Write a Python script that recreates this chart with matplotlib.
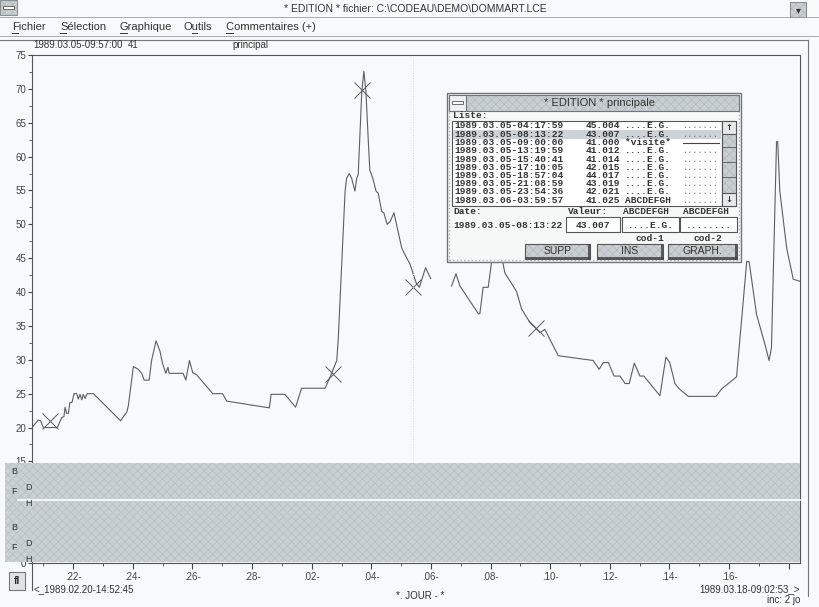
import datetime as dt
import matplotlib
matplotlib.use('Agg')
import matplotlib.pyplot as plt
import matplotlib.dates as mdates
import matplotlib.ticker as mticker
from matplotlib.patches import Rectangle
from matplotlib.lines import Line2D
import numpy as np

W, H = 819, 607

# bornes de l'axe des temps
debut = dt.datetime(1989, 2, 20, 14, 52, 45)
fin = dt.datetime(1989, 3, 18, 9, 2, 53)
curseur = dt.datetime(1989, 3, 5, 9, 57, 0)

# courbe principale : jours depuis le debut / valeurs
jours = [0.00, 0.21, 0.29, 0.38, 0.85, 1.00, 1.07, 1.11, 1.16, 1.22, 1.27, 1.34,
         1.41, 1.50, 1.55, 1.61, 1.67, 1.72, 1.78, 1.85, 2.06, 2.97, 3.18, 3.23,
         3.40, 3.56, 3.68, 3.76, 3.93, 4.01, 4.16, 4.29, 4.38, 4.49, 4.56, 4.60,
         5.07, 5.16, 5.28, 5.39, 5.52, 6.06, 6.39, 6.53, 7.96, 8.02, 8.48, 8.84,
         9.04, 9.83, 10.05, 10.22, 10.27, 10.50, 10.55, 10.64, 10.72, 10.83, 10.89,
         10.94, 11.06, 11.13, 11.20, 11.28, 11.33, 11.43, 11.54, 11.61, 11.73,
         11.80, 11.91, 12.01, 12.14, 12.25, 12.40, 12.51, 12.68, 12.88, 12.99,
         13.20, 13.37, 13.70, 14.07, 14.22, 14.35, 14.97, 15.02, 15.13, 15.30,
         15.42, 15.56, 15.78, 15.86, 16.25, 16.42, 16.70, 17.04, 17.20, 17.65,
         18.82, 19.02, 19.16, 19.33, 19.52, 19.72, 19.89, 20.03, 20.20, 20.39,
         20.52, 21.06, 21.26, 21.39, 21.56, 21.71, 22.01, 22.94, 23.13, 23.63,
         23.97, 24.05, 24.30, 24.58, 24.72, 24.80, 24.97, 25.01, 25.08, 25.31,
         25.53, 25.75]
valeurs = [20.0, 21.1, 21.0, 20.0, 20.0, 21.5, 21.6, 23.0, 22.1, 22.1, 23.7, 23.7,
           25.0, 25.0, 24.2, 24.9, 24.1, 24.9, 24.3, 25.0, 25.0, 21.0, 22.3, 23.2,
           29.0, 28.6, 28.0, 27.0, 27.0, 29.9, 32.8, 31.3, 29.4, 28.0, 28.9, 28.0,
           28.0, 27.0, 29.9, 28.1, 27.8, 25.0, 25.0, 23.9, 22.9, 24.9, 24.9, 23.0,
           25.8, 25.8, 28.0, 29.9, 33.0, 54.9, 56.8, 57.5, 56.8, 54.9, 56.8,
           57.3, 69.6, 72.6, 69.6, 62.2, 58.0, 56.8, 54.9, 54.6, 51.9,
           51.7, 50.0, 50.4, 51.7, 49.5, 46.5, 45.5, 44.1, 41.4, 40.7,
           43.6, 42.0, np.nan, 40.9, 42.7, 40.9, 36.8, 36.8, 40.7, 40.7,
           44.6, 49.7, 44.6, 42.8, 40.1, 37.5, 35.5, 34.0, 34.5, 30.6,
           29.9, 28.6, 29.6, 29.6, 27.6, 27.6, 26.5, 26.5, 29.5, 27.6,
           27.6, 24.7, 30.4, 29.6, 26.5, 25.7, 24.6, 24.6, 25.7, 27.5,
           44.5, 44.5, 36.7, 32.3, 29.9, 31.8, 62.2, 62.2, 54.9, 46.5,
           41.9, 41.6]

# points marques d'une croix
jours_marques = [0.60, 10.11, 11.07, 12.78, 16.90]
valeurs_marques = [21.0, 27.9, 69.8, 40.7, 34.7]

# contenu de la liste du dialogue
liste_dates = ['1989.03.05-04:17:59', '1989.03.05-08:13:22', '1989.03.05-09:00:00',
               '1989.03.05-13:19:59', '1989.03.05-15:40:41', '1989.03.05-17:10:05',
               '1989.03.05-18:57:04', '1989.03.05-21:08:59', '1989.03.05-23:54:36',
               '1989.03.06-03:59:57']
liste_valeurs = ['45.004', '43.007', '41.000', '41.012', '41.014', '42.015',
                 '44.017', '43.019', '42.021', '41.025']
liste_codes = ['....E.G.', '....E.G.', '*visite*', '....E.G.', '....E.G.',
               '....E.G.', '....E.G.', '....E.G.', '....E.G.', 'ABCDEFGH']

menus = ['Fichier', 'Sélection', 'Graphique', 'Outils', 'Commentaires (+)']
menus_x = [12, 60, 120, 184, 226]

FOND = '#f7fafa'
TXT = '#333333'
GRIS = '#c8ced1'
SANS = ['Liberation Sans Narrow', 'Liberation Sans', 'DejaVu Sans']
MONO = ['Liberation Mono', 'DejaVu Sans Mono']

plt.rcParams['hatch.linewidth'] = 0.5

fig = plt.figure(figsize=(W / 100, H / 100), dpi=100, facecolor=FOND)


def fx(x):
    return x / W


def fy(y):
    return 1 - y / H


def rect(x0, y0, x1, y1, z=5, **kw):
    r = Rectangle((fx(x0), fy(y1)), (x1 - x0) / W, (y1 - y0) / H,
                  transform=fig.transFigure, zorder=z, **kw)
    fig.add_artist(r)
    return r


def ligne(x0, y0, x1, y1, z=6, color='#666666', lw=0.8, **kw):
    fig.add_artist(Line2D([fx(x0), fx(x1)], [fy(y0), fy(y1)],
                          transform=fig.transFigure, zorder=z, color=color, lw=lw, **kw))


def txt(x, y, s, z=7, size=7, family=SANS, color=TXT, **kw):
    kw.setdefault('va', 'center')
    fig.text(fx(x), fy(y), s, zorder=z, fontsize=size, family=family, color=color, **kw)


def grise(x0, y0, x1, y1, z=5, edge='#8a9094'):
    rect(x0, y0, x1, y1, z=z, facecolor=GRIS, edgecolor='#b2babe', hatch='xxxx', lw=0)
    rect(x0, y0, x1, y1, z=z, facecolor='none', edgecolor=edge, lw=0.8)


# ---- graphique principal ----
ax = fig.add_axes([fx(32), fy(563), (800 - 32) / W, (563 - 55) / H])
ax.set_facecolor(FOND)
dates = [debut + dt.timedelta(days=j) for j in jours]
dates_m = [debut + dt.timedelta(days=j) for j in jours_marques]
ax.plot(dates, valeurs, color='#5e5e5e', lw=0.8)
ax.plot(dates_m, valeurs_marques, 'x', color='#5a5a5a', ms=11, mew=0.7)
ax.axvline(curseur, color='#d3d9dd', lw=0.7, ls=':')

ax.set_xlim(debut, fin)
ax.set_ylim(0, 75)
ax.yaxis.set_major_locator(mticker.MultipleLocator(5))
ax.yaxis.set_minor_locator(mticker.MultipleLocator(2.5))
graduations = [dt.datetime(1989, 2, 22) + dt.timedelta(days=2 * i) for i in range(13)]
ax.set_xticks(graduations)
ax.xaxis.set_minor_locator(mdates.DayLocator())
ax.xaxis.set_major_formatter(mticker.FuncFormatter(
    lambda v, p: '' if mdates.num2date(v).day == 18 else mdates.num2date(v).strftime('.%d-')))
ax.tick_params(axis='y', which='major', length=3, pad=1, labelsize=7, colors='#444444')
ax.tick_params(axis='y', which='minor', length=2, colors='#444444')
ax.tick_params(axis='x', which='major', length=4, pad=2.5, labelsize=7, colors='#444444')
ax.tick_params(axis='x', which='minor', length=2, colors='#444444')
for lab in ax.get_xticklabels() + ax.get_yticklabels():
    lab.set_family(SANS)
for s in ax.spines.values():
    s.set_color('#555555')
    s.set_linewidth(0.8)

# bande des codes (B, F, D, H)
rect(5, 463, 800, 562, z=5, facecolor='#cad1d4', edgecolor='#b6bfc4', hatch='xxxx', lw=0)
ligne(18, 500, 800, 500, z=6, color='#ffffff', lw=1.2)
for y0 in (471, 527):
    txt(14, y0, 'B', size=6.5, ha='center')
    txt(14, y0 + 20, 'F', size=6.5, ha='center')
    txt(28, y0 + 17, 'D', size=6.5, ha='center')
    txt(28, y0 + 32, 'H', size=6.5, ha='center')

# en-tete du graphique
txt(33, 45, '1989.03.05-09:57:00', size=7)
txt(128, 45, '41', size=7)
txt(232, 45, 'principal', size=7)

# bas du graphique
ligne(32, 563, 32, 590, color='#555555')
rect(9, 572, 25, 590, z=6, facecolor='#dfe3e5', edgecolor='#777777', lw=0.8)
txt(17, 581, 'fl', size=7.5, ha='center', weight='bold')
txt(34, 589, '<_1989.02.20-14:52:45', size=7)
txt(800, 589, '1989.03.18-09:02:53_>', size=7, ha='right')
txt(800, 600, 'inc: 2 jo', size=7, ha='right')
txt(420, 596, '*. JOUR - *', size=7, ha='center')

# ---- fenetre ----
ligne(0, 17, 819, 17, color='#9aa0a4', lw=0.6)
ligne(0, 36, 819, 36, color='#9aa0a4', lw=0.6)
ligne(0, 40, 808, 40, color='#777777', lw=0.8)
ligne(808, 40, 808, 596, color='#777777', lw=0.8)
grise(0, 0, 17, 15)
rect(3, 6, 14, 9, z=6, facecolor='#ffffff', edgecolor='#555555', lw=0.6)
grise(790, 2, 806, 17)
txt(798, 10, '▾', size=7, ha='center', family=['DejaVu Sans'])
txt(415, 9, '* EDITION * fichier: C:\\CODEAU\\DEMO\\DOMMART.LCE', size=7.5, ha='center')
for m, x in zip(menus, menus_x):
    txt(x, 27, m, size=8)
for x0, x1 in [(12, 18), (60, 66), (120, 127), (192, 197), (226, 233)]:
    ligne(x0, 33, x1, 33, color=TXT, lw=0.7)

# ---- dialogue EDITION principale ----
Z = 10
rect(447, 93, 741, 262, z=Z, facecolor='#f6f8f8', edgecolor='#6f7579', lw=1.0)
rect(449, 95, 739, 260, z=Z, facecolor='none', edgecolor='#a9b0b4', lw=1.0, ls=':')
grise(449, 95, 739, 111, z=Z + 1, edge='#6f7579')
rect(449, 95, 466, 111, z=Z + 1, facecolor='#eef1f2', edgecolor='#6f7579', lw=0.8)
rect(452, 101, 463, 104, z=Z + 2, facecolor='#ffffff', edgecolor='#555555', lw=0.6)
txt(600, 103, '* EDITION * principale', z=Z + 2, size=8, ha='center')

txt(453, 115, 'Liste:', z=Z + 2, size=6.8, family=MONO, weight='bold')
rect(452, 121, 722, 206, z=Z + 1, facecolor='#ffffff', edgecolor='#555555', lw=0.8)
rect(453, 130, 721, 139, z=Z + 1, facecolor='#ccd2d6', lw=0)
for i in range(len(liste_dates)):
    y = 126 + 8.25 * i
    txt(454, y, liste_dates[i], z=Z + 2, size=6.8, family=MONO, weight='bold')
    txt(586, y, liste_valeurs[i], z=Z + 2, size=6.8, family=MONO, weight='bold')
    txt(625, y, liste_codes[i], z=Z + 2, size=6.8, family=MONO, weight='bold')
    if liste_codes[i] == '*visite*':
        ligne(683, y, 719, y, z=Z + 2, color='#444444', lw=0.8)
    else:
        txt(683, y, '.......', z=Z + 2, size=6.2, family=MONO, color='#777777')
grise(722, 121, 736, 206, z=Z + 1, edge='#555555')
rect(722, 121, 736, 134, z=Z + 2, facecolor='#e6e9ea', edgecolor='#555555', lw=0.8)
rect(722, 193, 736, 206, z=Z + 2, facecolor='#e6e9ea', edgecolor='#555555', lw=0.8)
for y in (147, 162, 177):
    ligne(722, y, 736, y, z=Z + 2, color='#555555', lw=0.6)
txt(729, 127.5, '↑', z=Z + 3, size=6, ha='center', family=['DejaVu Sans'], weight='bold')
txt(729, 199.5, '↓', z=Z + 3, size=6, ha='center', family=['DejaVu Sans'], weight='bold')

txt(453, 212, 'Date:', z=Z + 2, size=6.8, family=MONO, weight='bold')
txt(568, 212, 'Valeur:', z=Z + 2, size=6.8, family=MONO, weight='bold')
txt(623, 212, 'ABCDEFGH', z=Z + 2, size=6.8, family=MONO, weight='bold')
txt(683, 212, 'ABCDEFGH', z=Z + 2, size=6.8, family=MONO, weight='bold')
txt(453, 225, '1989.03.05-08:13:22', z=Z + 2, size=6.8, family=MONO, weight='bold')
for (x0, x1), s in zip([(566, 620), (622, 679), (680, 737)], ['43.007', '....E.G.', '........']):
    rect(x0, 217, x1, 232, z=Z + 1, facecolor='#ffffff', edgecolor='#555555', lw=0.8)
    txt((x0 + x1) / 2, 225, s, z=Z + 2, size=6.8, family=MONO, weight='bold', ha='center')
txt(650, 239, 'cod-1', z=Z + 2, size=6.8, family=MONO, weight='bold', ha='center')
txt(708, 239, 'cod-2', z=Z + 2, size=6.8, family=MONO, weight='bold', ha='center')

for (x0, x1), s in zip([(525, 590), (597, 663), (668, 737)], ['SUPP', 'INS', 'GRAPH.']):
    grise(x0, 244, x1, 259, z=Z + 1, edge='#555555')
    ligne(x0 + 1, 258, x1, 258, z=Z + 2, color='#444444', lw=1.2)
    ligne(x1 - 1, 245, x1 - 1, 259, z=Z + 2, color='#444444', lw=1.2)
    txt((x0 + x1) / 2, 251.5, s, z=Z + 3, size=7.5, ha='center')

fig.savefig('out.png', dpi=100, facecolor=FOND)
